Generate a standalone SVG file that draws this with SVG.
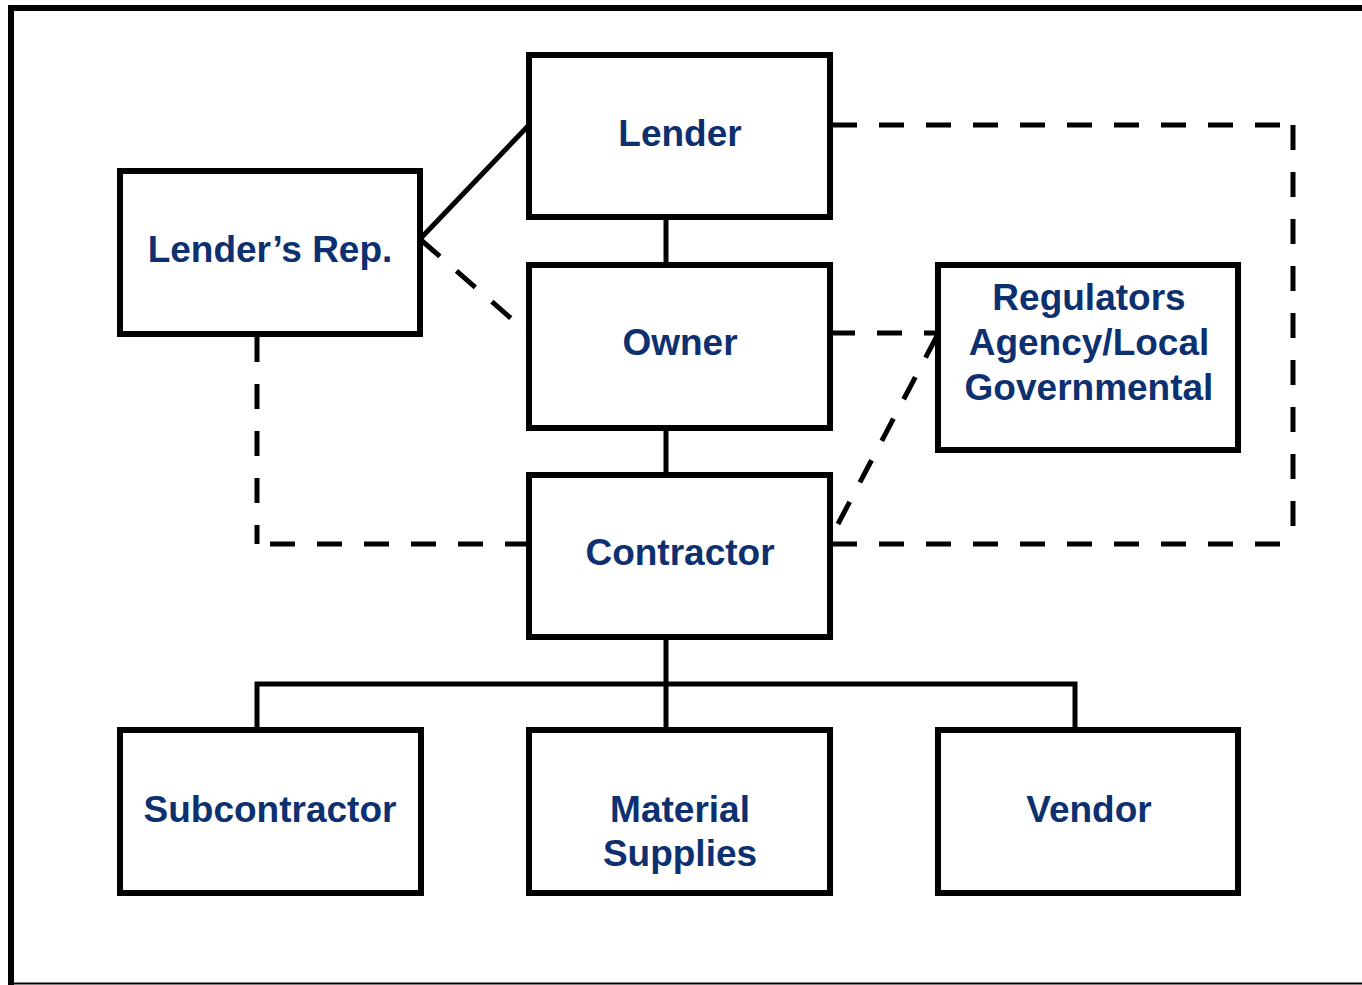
<svg xmlns="http://www.w3.org/2000/svg" width="1362" height="985" viewBox="0 0 1362 985">
<style>
.box{fill:#fff;stroke:#000;stroke-width:6}
.lbl{font-family:"Liberation Sans",Arial,sans-serif;font-weight:bold;font-size:37px;fill:#0d3070;text-anchor:middle}
.solid{fill:none;stroke:#000;stroke-width:5}
.dash{fill:none;stroke:#000;stroke-width:5;stroke-dasharray:25 22}
</style>
<rect width="1362" height="985" fill="#fff"/>
<g id="frame">
<line x1="8" y1="8" x2="1362" y2="8" stroke="#000" stroke-width="6"/>
<line x1="11" y1="5" x2="11" y2="985" stroke="#000" stroke-width="6"/>
<line x1="11" y1="983.5" x2="1362" y2="983.5" stroke="#000" stroke-width="2"/>
</g>
<g id="connectors">
<line class="solid" x1="666" y1="217" x2="666" y2="265" stroke-width="4"/>
<line class="solid" x1="666" y1="428" x2="666" y2="475" stroke-width="4"/>
<line class="solid" x1="421" y1="238" x2="529" y2="125"/>
<line class="dash" x1="421" y1="240" x2="529" y2="334"/>
<path class="dash" d="M257,337 V544"/>
<path class="dash" d="M270,544 H529"/>
<line class="dash" x1="830" y1="333" x2="938" y2="333"/>
<line class="dash" x1="838" y1="524" x2="938" y2="334"/>
<path class="dash" d="M832,125 H1293"/>
<path class="dash" d="M1293,125 V544"/>
<path class="dash" d="M832,544 H1293"/>
<line class="solid" x1="666" y1="637" x2="666" y2="730" stroke-width="4"/>
<path class="solid" d="M257,730 V684 H1075 V730" stroke-width="5"/>
</g>
<g id="lender"><rect class="box" x="529" y="55" width="301" height="162"/><text class="lbl" x="680" y="146">Lender</text></g>
<g id="lenders-rep"><rect class="box" x="120" y="171" width="300" height="163"/><text class="lbl" x="270" y="262">Lender’s Rep.</text></g>
<g id="owner"><rect class="box" x="529" y="265" width="301" height="163"/><text class="lbl" x="680" y="355">Owner</text></g>
<g id="contractor"><rect class="box" x="529" y="475" width="301" height="162"/><text class="lbl" x="680" y="565">Contractor</text></g>
<g id="regulators"><rect class="box" x="938" y="265" width="300" height="185"/><text class="lbl" x="1089" y="310">Regulators</text><text class="lbl" x="1089" y="355">Agency/Local</text><text class="lbl" x="1089" y="400">Governmental</text></g>
<g id="subcontractor"><rect class="box" x="120" y="730" width="301" height="163"/><text class="lbl" x="270" y="822">Subcontractor</text></g>
<g id="material"><rect class="box" x="529" y="730" width="301" height="163"/><text class="lbl" x="680" y="822">Material</text><text class="lbl" x="680" y="866">Supplies</text></g>
<g id="vendor"><rect class="box" x="938" y="730" width="300" height="163"/><text class="lbl" x="1089" y="822">Vendor</text></g>
</svg>
